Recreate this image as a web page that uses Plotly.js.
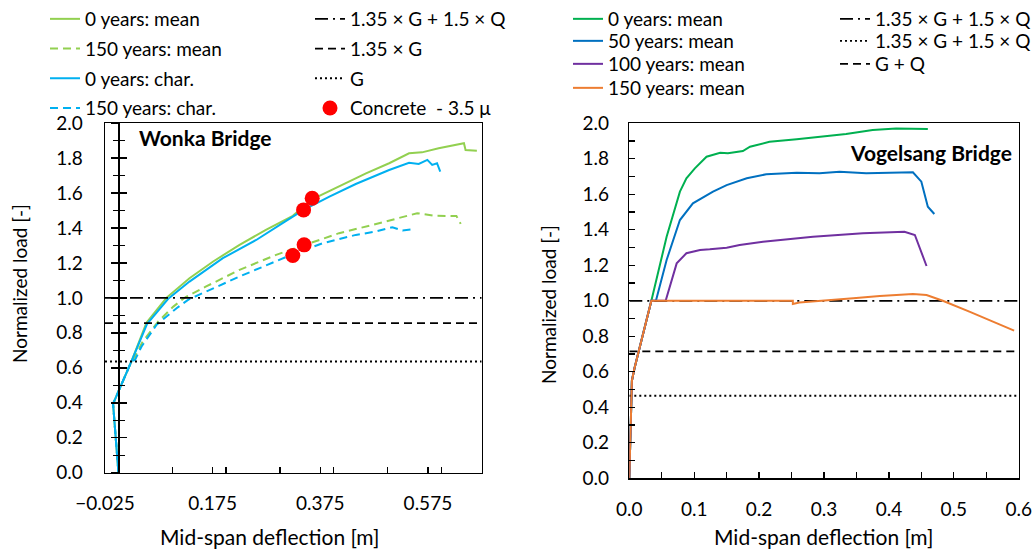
<!DOCTYPE html>
<html>
<head>
<meta charset="utf-8">
<script src="https://cdn.plot.ly/plotly-3.0.1.min.js"></script>
<style>html,body{margin:0;padding:0;background:#fff;}#chart{width:1036px;height:552px;}</style>
</head>
<body>
<div id="chart"></div>
<script>
// ---------- Wonka Bridge (left) ----------
const wonkaMean0X = [0.0, -0.010, 0.024, 0.052, 0.089, 0.132, 0.176, 0.225, 0.274, 0.324, 0.360, 0.410, 0.460, 0.503, 0.540, 0.564, 0.595, 0.642, 0.645, 0.666];
const wonkaMean0Y = [0.0, 0.394, 0.636, 0.858, 1.000, 1.112, 1.208, 1.303, 1.389, 1.469, 1.564, 1.640, 1.712, 1.770, 1.827, 1.832, 1.855, 1.884, 1.846, 1.842];
const wonkaMean150X = [0.0, -0.010, 0.024, 0.030, 0.045, 0.074, 0.102, 0.125, 0.163, 0.225, 0.293, 0.345, 0.410, 0.472, 0.534, 0.555, 0.589, 0.620, 0.628, 0.636];
const wonkaMean150Y = [0.0, 0.394, 0.636, 0.660, 0.750, 0.865, 0.950, 1.005, 1.065, 1.160, 1.246, 1.303, 1.370, 1.417, 1.469, 1.484, 1.469, 1.465, 1.468, 1.423];
const wonkaChar0X = [0.0, -0.010, 0.024, 0.053, 0.092, 0.132, 0.194, 0.256, 0.305, 0.344, 0.392, 0.441, 0.503, 0.540, 0.558, 0.574, 0.583, 0.592, 0.598];
const wonkaChar0Y = [0.0, 0.394, 0.636, 0.850, 0.993, 1.093, 1.227, 1.331, 1.427, 1.503, 1.579, 1.651, 1.731, 1.773, 1.766, 1.789, 1.760, 1.770, 1.722];
const wonkaChar150X = [0.0, -0.010, 0.024, 0.031, 0.043, 0.071, 0.108, 0.130, 0.163, 0.225, 0.321, 0.379, 0.441, 0.478, 0.509, 0.528, 0.549];
const wonkaChar150Y = [0.0, 0.394, 0.636, 0.646, 0.722, 0.846, 0.941, 0.990, 1.036, 1.122, 1.246, 1.312, 1.360, 1.379, 1.404, 1.385, 1.393];
const concreteX = [0.360, 0.344, 0.345, 0.324];
const concreteY = [1.570, 1.503, 1.303, 1.242];
const wonkaRange = [-0.025, 0.675];
const wonkaULS = 1.0;     // 1.35 x G + 1.5 x Q
const wonkaG135 = 0.855;  // 1.35 x G
const wonkaG = 0.636;     // G

// ---------- Vogelsang Bridge (right) ----------
const vogel0X = [0.0, 0.004, 0.008, 0.034, 0.0575, 0.078, 0.088, 0.101, 0.119, 0.129, 0.140, 0.152, 0.175, 0.186, 0.216, 0.258, 0.283, 0.334, 0.375, 0.411, 0.460];
const vogel0Y = [0.0, 0.550, 0.620, 1.000, 1.361, 1.615, 1.690, 1.746, 1.812, 1.821, 1.834, 1.831, 1.844, 1.868, 1.896, 1.910, 1.919, 1.940, 1.962, 1.970, 1.968];
const vogel50X = [0.0, 0.004, 0.008, 0.034, 0.041, 0.0575, 0.078, 0.098, 0.129, 0.150, 0.181, 0.211, 0.258, 0.293, 0.324, 0.365, 0.437, 0.450, 0.460, 0.470];
const vogel50Y = [0.0, 0.550, 0.620, 1.000, 1.000, 1.230, 1.455, 1.549, 1.615, 1.652, 1.690, 1.713, 1.722, 1.718, 1.727, 1.718, 1.724, 1.671, 1.530, 1.489];
const vogel100X = [0.0, 0.004, 0.008, 0.034, 0.056, 0.073, 0.088, 0.109, 0.124, 0.150, 0.170, 0.206, 0.283, 0.360, 0.424, 0.440, 0.458];
const vogel100Y = [0.0, 0.550, 0.620, 1.000, 1.000, 1.211, 1.268, 1.286, 1.290, 1.299, 1.314, 1.333, 1.361, 1.380, 1.389, 1.371, 1.196];
const vogel150X = [0.0, 0.004, 0.008, 0.034, 0.252, 0.252, 0.262, 0.301, 0.345, 0.386, 0.437, 0.458, 0.483, 0.524, 0.560, 0.593];
const vogel150Y = [0.0, 0.550, 0.620, 1.000, 1.000, 0.982, 0.990, 1.000, 1.014, 1.027, 1.038, 1.033, 1.000, 0.939, 0.882, 0.832];
const vogelRange = [0, 0.6];
const vogelULS = 1.0;    // 1.35 x G + 1.5 x Q
const vogelDot = 0.465;  // (legend: 1.35 x G + 1.5 x Q)
const vogelGQ = 0.715;   // G + Q

const FONT = 'Lato, "Open Sans", sans-serif';
const DASHDOT = '13px,5px,2px,5px';
const DASH = '8px,5px';
const DOT = '2px,3px';

function line(x, y, name, color, dash, xa, ya, legend, grp, width) {
  return {x: x, y: y, name: name, type: 'scatter', mode: 'lines',
    line: {color: color, width: width || 2, dash: dash || 'solid'},
    xaxis: xa, yaxis: ya, legend: legend, legendgroup: grp, hoverinfo: 'skip'};
}

const traces = [
  line(wonkaMean0X, wonkaMean0Y, '0 years: mean', '#92D050', 'solid', 'x', 'y', 'legend', 'a1'),
  line(wonkaMean150X, wonkaMean150Y, '150 years: mean', '#92D050', DASH, 'x', 'y', 'legend', 'a2'),
  line(wonkaChar0X, wonkaChar0Y, '0 years: char.', '#00B0F0', 'solid', 'x', 'y', 'legend', 'a3'),
  line(wonkaChar150X, wonkaChar150Y, '150 years: char.', '#00B0F0', DASH, 'x', 'y', 'legend', 'a4'),
  line(wonkaRange, [wonkaULS, wonkaULS], '1.35 × G + 1.5 × Q', '#000', DASHDOT, 'x', 'y3', 'legend2', 'b1', 1.8),
  line(wonkaRange, [wonkaG135, wonkaG135], '1.35 × G', '#000', DASH, 'x', 'y4', 'legend2', 'b2', 1.8),
  line(wonkaRange, [wonkaG, wonkaG], 'G', '#000', DOT, 'x', 'y', 'legend2', 'b3', 1.8),
  {x: concreteX, y: concreteY, name: 'Concrete\u00a0 - 3.5 μ', type: 'scatter', mode: 'markers',
   marker: {color: '#FF0000', size: 15}, xaxis: 'x', yaxis: 'y', legend: 'legend2', legendgroup: 'b4', hoverinfo: 'skip'},

  line(vogel0X, vogel0Y, '0 years: mean', '#00B050', 'solid', 'x2', 'y2', 'legend3', 'c1'),
  line(vogel50X, vogel50Y, '50 years: mean', '#0070C0', 'solid', 'x2', 'y2', 'legend4', 'c2'),
  line(vogel100X, vogel100Y, '100 years: mean', '#7030A0', 'solid', 'x2', 'y2', 'legend5', 'c3'),
  line(vogelRange, [vogelULS, vogelULS], '1.35 × G + 1.5 × Q', '#000', DASHDOT, 'x2', 'y2', 'legend7', 'd1', 1.8),
  line(vogelRange, [vogelDot, vogelDot], '1.35 × G + 1.5 × Q', '#000', DOT, 'x2', 'y2', 'legend8', 'd2', 1.8),
  line(vogelRange, [vogelGQ, vogelGQ], 'G + Q', '#000', DASH, 'x2', 'y2', 'legend9', 'd3', 1.8),
  line(vogel150X, vogel150Y, '150 years: mean', '#ED7D31', 'solid', 'x2', 'y2', 'legend6', 'c4')
];

const W = 1036, H = 552;
const px = v => v / W;
const py = v => (H - v) / H;

const tickFont = {family: FONT, size: 19, color: '#000'};
const legFont = {family: FONT, size: 19, color: '#000'};

const leftDom = [px(105), px(481.7)];
const rightDom = [px(629.3), px(1018.7)];
const zeroPos = leftDom[0] + (0 - wonkaRange[0]) / (wonkaRange[1] - wonkaRange[0]) * (leftDom[1] - leftDom[0]);

function leg(xPx, topPx, gap) {
  return {x: px(xPx), y: py(topPx), xanchor: 'left', yanchor: 'top', bgcolor: 'rgba(0,0,0,0)',
    font: legFont, traceorder: 'grouped', tracegroupgap: gap || 0, itemclick: false, itemdoubleclick: false};
}

const layout = {
  width: W, height: H,
  margin: {l: 0, r: 0, t: 0, b: 0},
  paper_bgcolor: '#fff', plot_bgcolor: '#fff',
  font: {family: FONT, size: 19, color: '#000'},
  xaxis: {domain: leftDom, anchor: 'y', range: wonkaRange, tick0: -0.025, dtick: 0.2, tickformat: '.3f',
    ticks: 'inside', ticklen: 6, tickwidth: 1.3, tickcolor: '#000',
    minor: {dtick: 0.1, ticks: 'inside', ticklen: 6, tickwidth: 1.3, tickcolor: '#000'},
    showline: true, linecolor: '#000', linewidth: 1.5, mirror: true, showgrid: false, zeroline: false,
    tickfont: tickFont, ticklabelstandoff: 13},
  yaxis: {domain: [py(472.7), py(123)], anchor: 'x', range: [0, 2], dtick: 0.2, tickformat: '.1f',
    ticks: '', showline: true, linecolor: '#000', linewidth: 1.5, mirror: true, showgrid: false, zeroline: false,
    tickfont: tickFont, ticklabelstandoff: 17},
  yaxis3: {overlaying: 'y', anchor: 'free', position: zeroPos, range: [0, 2], dtick: 0.2,
    showticklabels: false, ticks: 'inside', ticklen: 7, tickwidth: 1.5, tickcolor: '#000',
    minor: {dtick: 0.1, ticks: 'inside', ticklen: 5, tickwidth: 1.3, tickcolor: '#000'},
    showline: true, linecolor: '#000', linewidth: 1.5, showgrid: false, zeroline: false},
  yaxis4: {overlaying: 'y', anchor: 'free', position: zeroPos, range: [0, 2], dtick: 0.2,
    showticklabels: false, ticks: 'outside', ticklen: 7, tickwidth: 1.5, tickcolor: '#000',
    minor: {dtick: 0.1, ticks: 'outside', ticklen: 5, tickwidth: 1.3, tickcolor: '#000'},
    showline: false, showgrid: false, zeroline: false},
  xaxis2: {domain: rightDom, anchor: 'y2', range: vogelRange, dtick: 0.1, tickformat: '.1f',
    ticks: 'inside', ticklen: 6, tickwidth: 1.3, tickcolor: '#000',
    minor: {dtick: 0.05, ticks: 'inside', ticklen: 6, tickwidth: 1.3, tickcolor: '#000'},
    showline: true, linecolor: '#000', linewidth: 1.5, mirror: true, showgrid: false, zeroline: false,
    tickfont: tickFont, ticklabelstandoff: 13},
  yaxis2: {domain: [py(478.3), py(123.3)], anchor: 'x2', range: [0, 2], dtick: 0.2, tickformat: '.1f',
    ticks: 'inside', ticklen: 6, tickwidth: 1.3, tickcolor: '#000',
    minor: {dtick: 0.1, ticks: 'inside', ticklen: 6, tickwidth: 1.3, tickcolor: '#000'},
    showline: true, linecolor: '#000', linewidth: 1.5, mirror: true, showgrid: false, zeroline: false,
    tickfont: tickFont, ticklabelstandoff: 15},
  legend: leg(45, 0, 2),
  legend2: leg(310, 0, 2),
  legend3: leg(568, 0),
  legend4: leg(568, 22),
  legend5: leg(568, 45),
  legend6: leg(568, 69),
  legend7: leg(835, 0),
  legend8: leg(835, 22),
  legend9: leg(835, 45),
  annotations: [
    {text: '<b>Wonka Bridge</b>', xref: 'paper', yref: 'paper', x: px(137), y: py(137), xanchor: 'left', yanchor: 'middle',
     showarrow: false, font: {family: FONT, size: 21, color: '#000'}},
    {text: '<b>Vogelsang Bridge</b>', xref: 'paper', yref: 'paper', x: px(1014), y: py(152), xanchor: 'right', yanchor: 'middle',
     showarrow: false, font: {family: FONT, size: 21, color: '#000'}},
    {text: 'Mid-span deflection [m]', xref: 'paper', yref: 'paper', x: px(269), y: py(536), xanchor: 'center', yanchor: 'middle',
     showarrow: false, font: {family: FONT, size: 21, color: '#000'}},
    {text: 'Mid-span deflection [m]', xref: 'paper', yref: 'paper', x: px(823), y: py(536), xanchor: 'center', yanchor: 'middle',
     showarrow: false, font: {family: FONT, size: 21, color: '#000'}},
    {text: 'Normalized load [-]', xref: 'paper', yref: 'paper', x: px(19), y: py(284), xanchor: 'center', yanchor: 'middle',
     textangle: -90, showarrow: false, font: {family: FONT, size: 19, color: '#000'}},
    {text: 'Normalized load [-]', xref: 'paper', yref: 'paper', x: px(548), y: py(305), xanchor: 'center', yanchor: 'middle',
     textangle: -90, showarrow: false, font: {family: FONT, size: 19, color: '#000'}}
  ],
  showlegend: true
};

Plotly.newPlot('chart', traces, layout, {staticPlot: true, displayModeBar: false});
</script>
</body>
</html>
